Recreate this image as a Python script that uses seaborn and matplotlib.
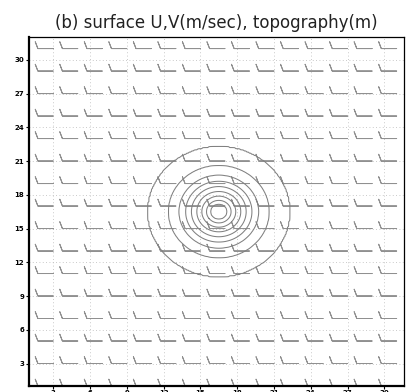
import numpy as np
import matplotlib
matplotlib.use("Agg")
import matplotlib.pyplot as plt
import seaborn as sns

# ---- data ----
title = "(b) surface U,V(m/sec), topography(m)"
x_ticks = [3, 6, 9, 12, 15, 18, 21, 24, 27, 30]
y_ticks = [3, 6, 9, 12, 15, 18, 21, 24, 27, 30]

# wind barb stations (every second grid point) and wind components (m/sec)
barb_x = [3, 5, 7, 9, 11, 13, 15, 17, 19, 21, 23, 25, 27, 29, 31]
barb_y = [1, 3, 5, 7, 9, 11, 13, 15, 17, 19, 21, 23, 25, 27, 29, 31]
wind_u = 10.0
wind_v = 0.0

# topography: hill centre, contour levels (m) and radius of each contour (grid units)
hill_center_x = 16.5
hill_center_y = 16.5
hill_levels = [100, 200, 300, 400, 500, 600, 700, 800, 900]
hill_radius = [5.77, 4.10, 3.24, 2.70, 2.23, 1.79, 1.38, 1.00, 0.67]
hill_peak = 1000

# ---- figure ----
sns.set_theme(style="white")
plt.rcParams["font.family"] = ["DejaVu Sans"]

fig = plt.figure(figsize=(4.08, 3.92), dpi=100)
ax = fig.add_axes([0.0703, 0.0153, 0.9199, 0.8895])
ax.set_xlim(1, 31.6)
ax.set_ylim(1, 32)

# grid
ax.set_xticks(x_ticks)
ax.set_yticks(y_ticks)
ax.grid(True, color="#b8b8b8", linestyle=(0, (1, 3)), linewidth=0.6)
ax.set_axisbelow(True)

# topography field from the read contour radii
gx = np.linspace(1, 32, 311)
gy = np.linspace(1, 32, 311)
GX, GY = np.meshgrid(gx, gy)
R = np.hypot(GX - hill_center_x, GY - hill_center_y)
prof_r = [0.0] + hill_radius[::-1] + [40.0]
prof_h = [hill_peak] + hill_levels[::-1] + [0.0]
H = np.interp(R, prof_r, prof_h)
ax.contour(GX, GY, H, levels=hill_levels, colors="#808080", linewidths=0.75)

# wind barbs
BX, BY = np.meshgrid(barb_x, barb_y)
U = np.full(BX.shape, wind_u)
V = np.full(BX.shape, wind_v)
ax.barbs(BX, BY, U, V, length=4.7, pivot="tip", barbcolor="#909090",
         linewidth=0.7, sizes=dict(height=0.44, width=0.34))

# frame
for side in ["left", "bottom"]:
    ax.spines[side].set_linewidth(1.6)
    ax.spines[side].set_color("black")
for side in ["top", "right"]:
    ax.spines[side].set_linewidth(0.9)
    ax.spines[side].set_color("black")

ax.tick_params(axis="both", direction="out", length=2.2, width=0.8, color="black",
               pad=1.0, labelsize=5, labelcolor="black")
ax.tick_params(axis="x", bottom=True, top=False)
ax.tick_params(axis="y", left=True, right=False)
for lab in ax.get_xticklabels() + ax.get_yticklabels():
    lab.set_fontweight("bold")

ax.set_title(title, fontsize=12, pad=6.5, color="#222222")

fig.savefig("out.png", dpi=100)
